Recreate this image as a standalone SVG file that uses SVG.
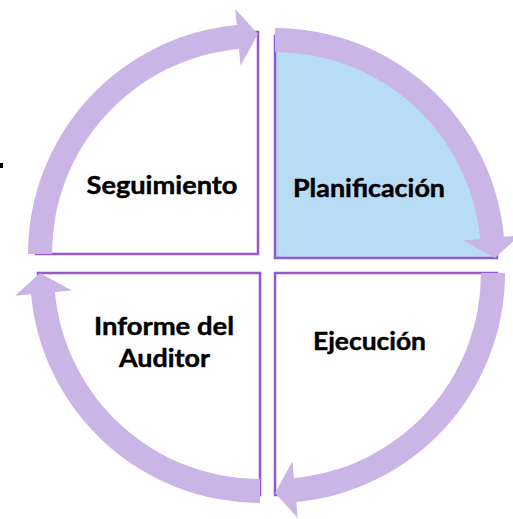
<svg xmlns="http://www.w3.org/2000/svg" width="513" height="519" viewBox="0 0 513 519">
  <style>
    .quad { stroke: #9657CF; stroke-width: 2.5; }
    .white { fill: #FFFFFF; }
    .blue { fill: #B8DBF6; }
    .arrow { fill: #CBB5E6; }
    .lbl { font-family: Lato, "Open Sans", "Liberation Sans", sans-serif; font-weight: bold; font-size: 25px; fill: #000000; stroke: #000000; stroke-width: 0.45; text-anchor: middle; }
  </style>
  <defs>
    <path id="cyc" d="M -230 0 A 230 230 0 0 1 -21.25 -229 L -22.73 -244.9 L 0 -220 L -17.46 -188.2 L -19.03 -205.1 A 206 206 0 0 0 -206 0 Z"/>
  </defs>
  <rect width="513" height="519" fill="#FFFFFF"/>
  <rect x="0" y="163" width="3" height="5" fill="#000000"/>

  <g id="seguimiento">
    <path class="quad white" d="M 258 254 L 36 254 A 222 222 0 0 1 258 32 Z"/>
    <text class="lbl" x="162" y="194" textLength="151" lengthAdjust="spacingAndGlyphs">Seguimiento</text>
  </g>
  <g id="planificacion">
    <path class="quad blue" d="M 275 258 L 275 36 A 222 222 0 0 1 497 258 Z"/>
    <text class="lbl" x="369" y="197" textLength="152" lengthAdjust="spacingAndGlyphs">Planificación</text>
  </g>
  <g id="ejecucion">
    <path class="quad white" d="M 275 273 L 497 273 A 222 222 0 0 1 275 495 Z"/>
    <text class="lbl" x="369.5" y="350" textLength="113" lengthAdjust="spacingAndGlyphs">Ejecución</text>
  </g>
  <g id="informe">
    <path class="quad white" d="M 260 273 L 260 495 A 222 222 0 0 1 38 273 Z"/>
    <text class="lbl" x="164" y="335" textLength="140" lengthAdjust="spacingAndGlyphs">Informe del</text>
    <text class="lbl" x="164.5" y="367" textLength="91" lengthAdjust="spacingAndGlyphs">Auditor</text>
  </g>

  <g id="connectors">
    <use href="#cyc" class="arrow" transform="translate(258 254)"/>
    <use href="#cyc" class="arrow" transform="translate(275 258) rotate(90)"/>
    <use href="#cyc" class="arrow" transform="translate(275 273) rotate(180)"/>
    <use href="#cyc" class="arrow" transform="translate(260 273) rotate(270)"/>
  </g>
</svg>
